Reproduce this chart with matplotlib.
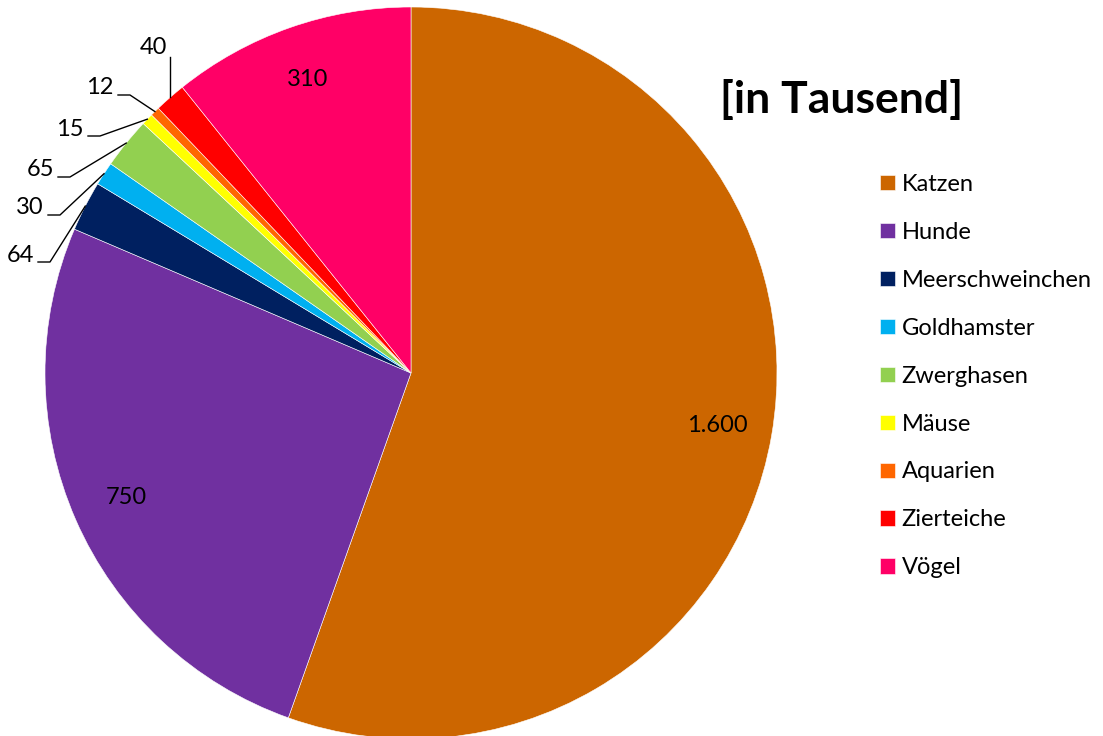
import matplotlib.pyplot as plt
import numpy as np

plt.rcParams['font.family'] = ['Lato', 'DejaVu Sans']

# Haustiere in Deutschland [in Tausend]
categories = ['Katzen', 'Hunde', 'Meerschweinchen', 'Goldhamster', 'Zwerghasen',
              'Mäuse', 'Aquarien', 'Zierteiche', 'Vögel']
values = [1600, 750, 64, 30, 65, 15, 12, 40, 310]
value_labels = ['1.600', '750', '64', '30', '65', '15', '12', '40', '310']
colors = ['#CC6600', '#7030A0', '#002060', '#00B0F0', '#92D050',
          '#FFFF00', '#FF6600', '#FF0000', '#FF0066']

# pixel-like coordinates (y measured upward)
W, H = 1103, 736
fig = plt.figure(figsize=(W / 100, H / 100), dpi=100)
ax = fig.add_axes([0, 0, 1, 1])

cx, cy, r = 411, H - 373, 366
wedges, _ = ax.pie(values, center=(cx, cy), radius=r, startangle=90, counterclock=False,
                   colors=colors, frame=True,
                   wedgeprops=dict(edgecolor='white', linewidth=0.4))
ax.set_xlim(0, W)
ax.set_ylim(0, H)
ax.set_aspect('equal')
ax.axis('off')

# big slices: labels inside
for i in [0, 1, 8]:
    w = wedges[i]
    mid = np.deg2rad((w.theta1 + w.theta2) / 2)
    d = 0.85 * r
    ax.text(cx + d * np.cos(mid), cy + d * np.sin(mid), value_labels[i],
            ha='center', va='center', fontsize=17)

# small slices: labels outside with leader lines (text positions)
label_pos = {2: (20, 255), 3: (30, 208), 4: (40, 170), 5: (70, 129), 6: (100, 88), 7: (153, 47)}
for i, (px, py) in label_pos.items():
    w = wedges[i]
    mid = np.deg2rad((w.theta1 + w.theta2) / 2)
    ex, ey = cx + r * np.cos(mid), cy + r * np.sin(mid)
    ty = H - py
    ax.text(px, ty, value_labels[i], ha='center', va='center', fontsize=17)
    if i == 7:
        ax.plot([ex, ex], [ty - 10, ey], color='black', lw=1)
    else:
        x0 = px + 18
        ax.plot([x0, x0 + 12, ex], [ty - 7, ty - 7, ey], color='black', lw=1)

ax.text(842, H - 100, '[in Tausend]', ha='center', va='center', fontsize=32, fontweight='bold')

ax.legend(wedges, categories, loc='upper left', bbox_to_anchor=(880 / W, 1 - 174 / H),
          frameon=False, fontsize=17, handlelength=0.62, handleheight=0.62,
          handletextpad=0.3, labelspacing=1.14, borderaxespad=0, borderpad=0)

plt.savefig('out.png', dpi=100)
